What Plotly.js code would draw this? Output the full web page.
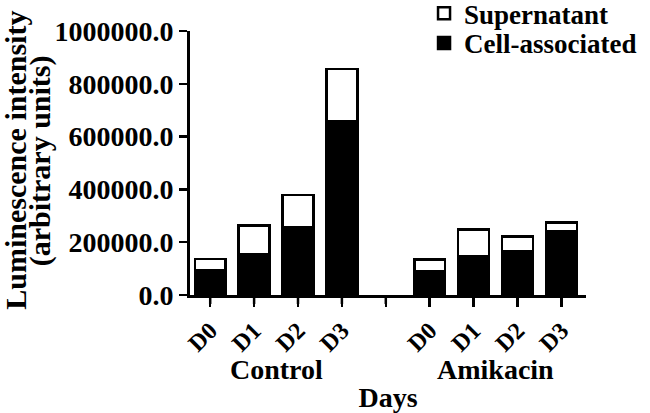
<!DOCTYPE html>
<html>
<head>
<meta charset="utf-8">
<script src="https://cdn.plot.ly/plotly-3.0.1.min.js"></script>
<style>html,body{margin:0;padding:0;background:#fff;}#chart{width:650px;height:413px;}</style>
</head>
<body>
<div id="chart"></div>
<script>
// Data
const positions = [0, 1, 2, 3, 5, 6, 7, 8];
const dayLabels = ['D0', 'D1', 'D2', 'D3', 'D0', 'D1', 'D2', 'D3'];
const cellAssociated = [92000, 155000, 255000, 660000, 91000, 145000, 166000, 243000];
const supernatant = [45000, 108000, 123000, 197000, 44000, 104000, 55000, 31000];
const groups = ['Control', 'Amikacin'];
const groupCenters = [1.5, 6.5];
const tickVals = [0, 1, 2, 3, 4, 5, 6, 7, 8];
const tickText = ['D0', 'D1', 'D2', 'D3', '\u00a0', 'D0', 'D1', 'D2', 'D3'];
const yTitleLines = ['Luminescence intensity', '(arbitrary units)'];

const F = 'Liberation Serif, Times New Roman, serif';
const fnt = (s) => ({family: F, size: s, color: '#000', weight: 'bold'});

const traces = [
  {type: 'bar', name: 'Cell-associated', x: positions, y: cellAssociated, width: 0.7,
   legend: 'legend2',
   marker: {color: '#000', line: {color: '#000', width: 2.5}}},
  {type: 'bar', name: 'Supernatant', x: positions, y: supernatant, width: 0.7,
   legend: 'legend',
   marker: {color: '#fff', line: {color: '#000', width: 2.5}}}
];

const legendBase = {x: 0.591, xanchor: 'left', yanchor: 'middle',
  font: fnt(27), bgcolor: 'rgba(0,0,0,0)', itemwidth: 30};

// tick marks below the x axis at every tick value (including the gap)
const tickShapes = tickVals.map(v => ({
  type: 'line', xref: 'x', yref: 'paper', x0: v, x1: v, y0: 0, y1: -0.034,
  line: {color: '#000', width: 2.5}
}));

const layout = {
  width: 650, height: 413,
  margin: {l: 190, r: 64, t: 31, b: 118, autoexpand: false},
  barmode: 'stack',
  paper_bgcolor: '#fff', plot_bgcolor: '#fff',
  showlegend: true,
  legend: Object.assign({}, legendBase, {y: 1.066}),
  legend2: Object.assign({}, legendBase, {y: 0.953}),
  xaxis: {
    range: [-0.46, 8.56], tickvals: tickVals, ticktext: tickText, tickangle: -45,
    tickfont: fnt(24), ticks: 'outside', ticklen: 9, tickwidth: 2.5, tickcolor: '#000',
    showline: true, linecolor: '#000', linewidth: 3, showgrid: false, zeroline: false,
    title: {text: 'Days', font: fnt(28), standoff: 62}
  },
  yaxis: {
    range: [0, 1000000], tickvals: [0, 200000, 400000, 600000, 800000, 1000000],
    tickformat: '.1f', tickfont: fnt(28), ticks: 'outside', ticklen: 8, tickwidth: 2.5,
    tickcolor: '#000', showline: true, linecolor: '#000', linewidth: 3,
    showgrid: false, zeroline: false
  },
  shapes: tickShapes,
  annotations: groups.map((g, i) => ({
    text: g, x: groupCenters[i], xref: 'x', y: -0.284, yref: 'paper',
    showarrow: false, font: fnt(28), xanchor: 'center', yanchor: 'middle'
  })).concat(yTitleLines.map((t, i) => ({
    text: t, x: [-0.441, -0.379][i], xref: 'paper', y: 0.51, yref: 'paper',
    textangle: -90, showarrow: false, font: fnt(30), xanchor: 'center', yanchor: 'middle'
  })))
};

Plotly.newPlot('chart', traces, layout, {displayModeBar: false, staticPlot: true});
</script>
</body>
</html>
